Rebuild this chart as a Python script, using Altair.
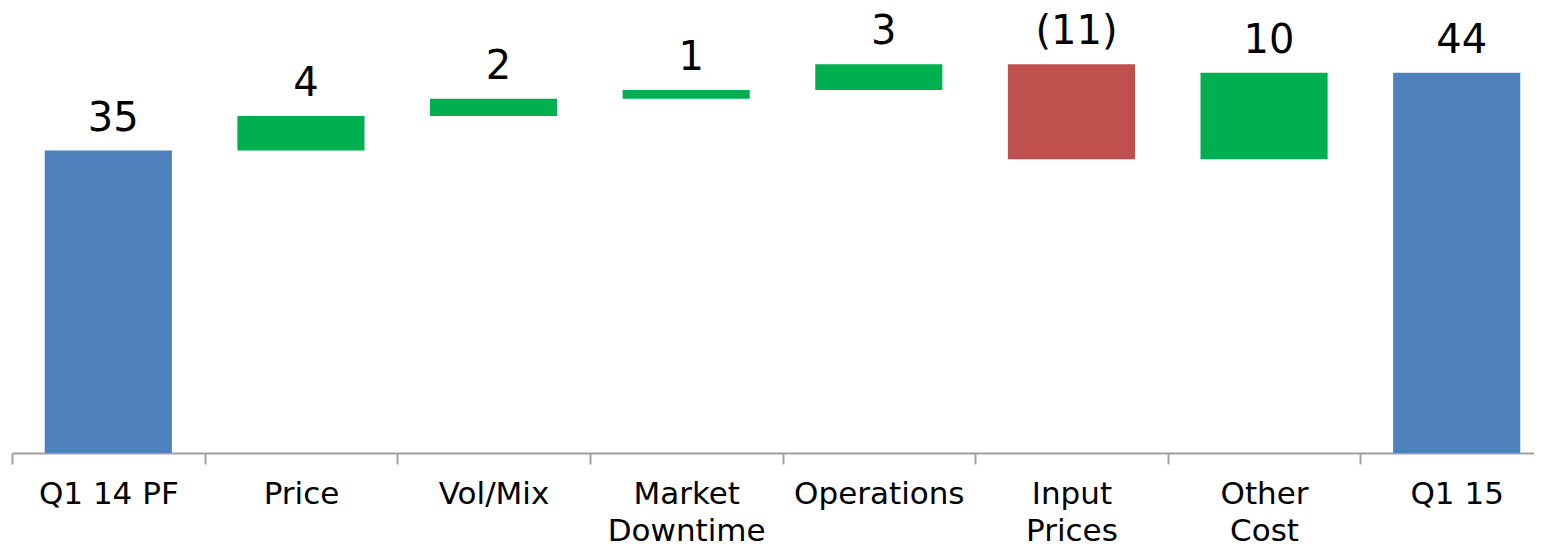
import altair as alt
import pandas as pd

categories = ["Q1 14 PF", "Price", "Vol/Mix", "Market|Downtime", "Operations",
              "Input|Prices", "Other|Cost", "Q1 15"]
values = [35, 4, 2, 1, 3, -11, 10, 44]
kinds = ["total", "delta", "delta", "delta", "delta", "delta", "delta", "total"]
labels = ["35", "4", "2", "1", "3", "(11)", "10", "44"]

rows = []
running = 0
for cat, val, kind, lab in zip(categories, values, kinds, labels):
    if kind == "total":
        start, end = 0, val
        running = val
        typ = "total"
    else:
        start, end = running, running + val
        running = end
        typ = "up" if val >= 0 else "down"
    rows.append({"cat": cat, "start": start, "end": end, "top": max(start, end),
                 "type": typ, "label": lab})
df = pd.DataFrame(rows)

xscale = alt.Scale(domain=categories, range=[0, 1541], paddingInner=0, paddingOuter=0)
yscale = alt.Scale(domain=[0, 51.5], nice=False, zero=False)

x = alt.X("cat:N", scale=xscale, sort=categories, title=None,
          axis=alt.Axis(labelExpr="split(datum.label, '|')", labelAngle=0,
                        labelFont="DejaVu Sans", labelFontSize=31, labelColor="black",
                        labelBaseline="alphabetic", labelPadding=39.5, labelLineHeight=37,
                        tickBand="extent", tickSize=11, tickWidth=2, tickColor="#a0a0a0",
                        domainColor="#a0a0a0", domainWidth=2, grid=False))

bars = alt.Chart(df).mark_bar(width=alt.RelativeBandSize(0.66)).encode(
    x=x,
    y=alt.Y("start:Q", scale=yscale, axis=None),
    y2="end:Q",
    color=alt.Color("type:N", scale=alt.Scale(domain=["total", "up", "down"],
                                              range=["#4F81BD", "#00B050", "#C0504D"]),
                    legend=None),
)

text = alt.Chart(df).mark_text(font="DejaVu Sans", fontSize=40, baseline="alphabetic",
                               dy=-20, dx=5, color="black").encode(
    x=alt.X("cat:N", scale=xscale, sort=categories),
    y=alt.Y("top:Q", scale=yscale),
    text="label:N",
)

chart = alt.layer(bars, text).properties(
    width=1522, height=445, background="white",
    padding={"left": 4, "top": 0, "right": 0, "bottom": 96},
    autosize=alt.AutoSizeParams(type="none"),
).configure_view(stroke=None)

chart.save("out.html", embed_options={"renderer": "svg", "actions": False})
